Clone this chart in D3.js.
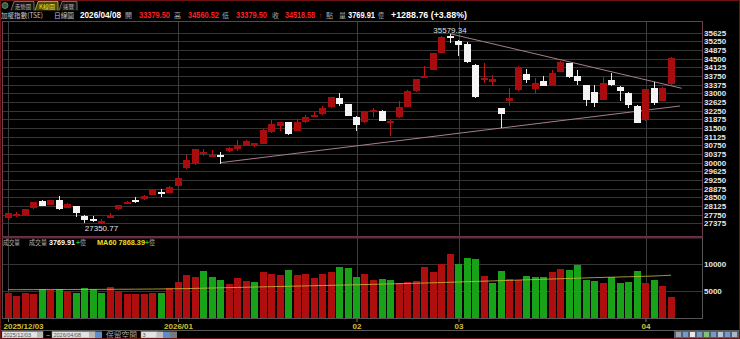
<!DOCTYPE html>
<html>
<head>
<meta charset="utf-8">
<title>加權指數 日線圖</title>
<style>
    body { margin: 0; background: #000; }
    svg { display: block; font-family: "Liberation Sans", Arial, sans-serif; }
    .grid path { display: none; }
    .grid line { stroke: #363636; shape-rendering: crispEdges; }
    .vgrid path { display: none; }
    .vgrid line { stroke: #3c3c3c; shape-rendering: crispEdges; }
    .axis text { fill: #e6e6e6; font-size: 8px; font-weight: bold; }
    .date path { display: none; }
    .date line { stroke: #777; }
    .date text { fill: #d2c23a; font-size: 8px; font-weight: bold; }
    .cjk { font-family: "Noto Sans CJK TC", "Noto Sans", sans-serif; }
</style>
<script src="https://d3js.org/d3.v7.min.js"></script>
</head>
<body>
<svg id="chart" width="740" height="339"></svg>
<script>
// 2025/12/03 ~ 2026/04/08, 79 trading days
var opens  = [27578, 27760, 27737, 28010, 28356, 28170, 28386, 28070, 28126, 27706,
              27565, 27455, 27690, 27966, 28260, 28395, 28416, 28603, 28715, 28702,
              29005, 29757, 29930, 30420, 30320, 30345, 30476, 30580, 30723, 30693,
              30809, 31315, 31588, 31748, 31372, 31774, 32020, 32077, 32380, 32813,
              32540, 31990, 31731, 32265, 32237, 31790, 31947, 32423, 33072, 33700,
              34011, 34760, 35490, 35279, 35123, 34227, 33640, 33492, 32354, 32670,
              33116, 33825, 33219, 33549, 33362, 33937, 34300, 33751, 33362, 33072,
              32713, 33578, 33288, 33029, 32453, 31848, 33219, 32670, 33379.50];
var highs  = [27840, 27880, 28000, 28300, 28370, 28400, 28572, 28250, 28140, 27720,
              27693, 27560, 27840, 28170, 28340, 28500, 28580, 28860, 28850, 28990,
              29370, 30333, 30600, 30580, 30560, 30476, 30693, 30982, 30980, 30870,
              31440, 31848, 31770, 31770, 31890, 32077, 32180, 32450, 32850, 33003,
              32560, 32010, 32230, 32380, 32260, 31877, 32650, 33130, 33640, 34184,
              34760, 35480, 35579.34, 35300, 35236, 34250, 34327, 33795, 32370, 33247,
              34170, 34040, 33652, 33751, 34011, 34400, 34320, 34011, 33380, 33362,
              33721, 33894, 33310, 33050, 32500, 33200, 33479, 33270, 34560.52];
var lows   = [27560, 27640, 27720, 28000, 28140, 28160, 27953, 28050, 27663, 27380,
              27421, 27350.77, 27680, 27950, 28200, 28270, 28400, 28590, 28530, 28690,
              28990, 29740, 29910, 30290, 30270, 29930, 30460, 30520, 30700, 30670,
              30790, 31300, 31370, 31200, 31350, 31705, 31964, 32060, 32360, 32467,
              32000, 31372, 31700, 31990, 31790, 31155, 31930, 32400, 33050, 33652,
              33990, 34740, 35192, 34617, 34300, 32800, 33462, 33332, 31488, 32453,
              33100, 33462, 33029, 33300, 33340, 33910, 33670, 33362, 32453, 32423,
              32700, 33330, 32670, 32354, 31700, 31820, 32500, 32650, 33379.50];
var closes = [27812, 27775, 27983, 28286, 28157, 28386, 27983, 28226, 27837, 27520,
              27540, 27475, 27710, 28157, 28280, 28380, 28559, 28819, 28690, 28961,
              29351, 30117, 30580, 30445, 30345, 30320, 30623, 30766, 30952, 30840,
              31415, 31675, 31748, 31229, 31761, 31990, 32045, 32354, 32830, 32540,
              32034, 31631, 32180, 32295, 31817, 31820, 32397, 33103, 33609, 33740,
              34734, 35452, 35470, 35106, 34327, 32830, 33665, 33635, 32108, 32813,
              34127, 33578, 33462, 33332, 33868, 34370, 33695, 33535, 32713, 32596,
              33462, 33349, 33103, 32527, 31731, 33185, 32570, 33247, 34518.58];
// 成交量 (億)
var volumes = [4540, 4044, 4540, 4411, 5275, 5146, 5275, 4962, 4540, 5459,
               5275, 4650, 5643, 5018, 4356, 4411, 4411, 4650, 4650, 5459,
               6672, 7848, 7591, 8639, 7536, 6984, 6249, 7352, 6745, 6617,
               8400, 8087, 7848, 8822, 7959, 8087, 7407, 8087, 8455, 9429,
               9245, 7591, 8087, 6984, 7113, 6984, 6378, 6617, 6856, 9374,
               8510, 9980, 11818, 9980, 10973, 10789, 7775, 6488, 8639, 7113,
               6984, 7720, 7481, 7481, 8400, 9061, 8822, 9797, 7040, 6801,
               6433, 7536, 6488, 6672, 8639, 6433, 6984, 5882, 3769.91];
// 1 = 漲 (red), 0 = 跌 (green)
var volUp = [1, 1, 1, 1, 0, 1, 0, 1, 0, 0,
             0, 0, 1, 1, 1, 1, 1, 1, 0, 1,
             1, 1, 1, 0, 0, 0, 1, 1, 1, 0,
             1, 1, 1, 0, 1, 1, 1, 1, 1, 0,
             0, 0, 1, 1, 0, 0, 1, 1, 1, 1,
             1, 1, 1, 0, 0, 0, 1, 0, 0, 1,
             1, 0, 0, 0, 1, 1, 0, 0, 0, 0,
             1, 0, 0, 0, 0, 1, 0, 1, 1];
var ma60 = [5200, 5205, 5210, 5215, 5222, 5228, 5235, 5240, 5246, 5252,
            5258, 5265, 5272, 5280, 5290, 5300, 5312, 5325, 5340, 5360,
            5385, 5410, 5445, 5480, 5515, 5550, 5585, 5620, 5655, 5690,
            5725, 5760, 5795, 5830, 5865, 5900, 5935, 5970, 6005, 6040,
            6075, 6110, 6150, 6190, 6230, 6270, 6310, 6350, 6390, 6430,
            6475, 6520, 6570, 6620, 6670, 6720, 6770, 6820, 6870, 6920,
            6970, 7020, 7070, 7120, 7170, 7220, 7270, 7320, 7370, 7420,
            7460, 7500, 7540, 7580, 7620, 7670, 7720, 7790, 7868.39];

var priceTicks = [27375, 27750, 28125, 28500, 28875, 29250, 29625, 30000, 30375, 30750,
                  31125, 31500, 31875, 32250, 32625, 33000, 33375, 33750, 34125, 34500,
                  34875, 35250, 35625];
var volTicks = [5000, 10000];
var dateTicks = [0, 20, 41, 53, 75];
var dateLabels = ["2025/12/03", "2026/01", "02", "03", "04"];

// 趨勢線 (index, price)
var upperTrend = [[52, 35579.34], [79.26, 33219]];
var lowerTrend = [[25, 30000], [79.06, 32453]];

var svg = d3.select("#chart");
var left = 3, right = 702;

var x = d3.scaleLinear().domain([0, 78]).range([8, 671]);
var y = d3.scaleLinear().domain([27375, 35625]).range([223.3, 32.7]);
var yv = d3.scaleLinear().domain([0, 10000]).range([318, 263.6]);

var bars = opens.map(function(o, i) {
    return { i: i, o: o, h: highs[i], l: lows[i], c: closes[i], v: volumes[i], up: volUp[i] };
});

svg.append("rect").attr("width", 740).attr("height", 339).attr("fill", "#000");

var defs = svg.append("defs");
defs.append("clipPath").attr("id", "clipMain").append("rect")
    .attr("x", left).attr("y", 22).attr("width", right - left).attr("height", 214);
defs.append("clipPath").attr("id", "clipVol").append("rect")
    .attr("x", left).attr("y", 238).attr("width", right - left).attr("height", 80);

// price grid + labels
svg.append("g")
    .attr("class", "grid axis")
    .attr("transform", "translate(" + right + ",0)")
    .call(d3.axisRight(y).tickValues(priceTicks).tickSizeInner(-(right - left)).tickSizeOuter(0)
        .tickPadding(2).tickFormat(d3.format("d")));

// volume grid + labels
svg.append("g")
    .attr("class", "grid axis")
    .attr("transform", "translate(" + right + ",0)")
    .call(d3.axisRight(yv).tickValues(volTicks).tickSizeInner(-(right - left)).tickSizeOuter(0)
        .tickPadding(2).tickFormat(d3.format("d")));

// month lines
svg.append("g")
    .attr("class", "vgrid")
    .attr("transform", "translate(0,318)")
    .call(d3.axisBottom(x).tickValues(dateTicks).tickSizeInner(-296).tickSizeOuter(0).tickFormat(""));

// date labels
var dateAxis = svg.append("g")
    .attr("class", "date")
    .attr("transform", "translate(0,318)")
    .call(d3.axisBottom(x).tickValues(dateTicks).tickSizeInner(4).tickSizeOuter(0).tickPadding(1)
        .tickFormat(function(d) { return dateLabels[dateTicks.indexOf(d)]; }));
dateAxis.selectAll("text").filter(function(d) { return d === 0; })
    .attr("text-anchor", "start").attr("x", -5);

// panel borders
svg.append("rect").attr("x", 2.5).attr("y", 21.5).attr("width", 700).attr("height", 215)
    .attr("fill", "none").attr("stroke", "#6e3a50");
svg.append("line").attr("x1", 2).attr("x2", 703).attr("y1", 237.5).attr("y2", 237.5)
    .attr("stroke", "#5e2c40").attr("stroke-width", 2);
svg.append("line").attr("x1", 2.5).attr("x2", 2.5).attr("y1", 238).attr("y2", 319)
    .attr("stroke", "#5a4a50");
svg.append("line").attr("x1", 702.5).attr("x2", 702.5).attr("y1", 238).attr("y2", 319)
    .attr("stroke", "#555");
svg.append("line").attr("x1", 2).attr("x2", 703).attr("y1", 318.5).attr("y2", 318.5)
    .attr("stroke", "#555");
svg.append("line").attr("x1", 0).attr("x2", 740).attr("y1", 330.5).attr("y2", 330.5)
    .attr("stroke", "#5a5a5a");

// trend lines
var tline = d3.line().x(function(d) { return x(d[0]); }).y(function(d) { return y(d[1]); });
var trends = svg.append("g").attr("clip-path", "url(#clipMain)");
[upperTrend, lowerTrend].forEach(function(t) {
    trends.append("path").attr("d", tline(t)).attr("fill", "none")
        .attr("stroke", "#a67e8e").attr("stroke-width", 1);
});

// candles
var cg = svg.append("g").attr("clip-path", "url(#clipMain)").style("shape-rendering", "crispEdges");
function bodyX(d) { return Math.round(x(d.i) - 3.5); }
cg.selectAll("line.wick").data(bars).join("line")
    .attr("class", "wick")
    .attr("x1", function(d) { return bodyX(d) + 3.5; })
    .attr("x2", function(d) { return bodyX(d) + 3.5; })
    .attr("y1", function(d) { return y(d.h); })
    .attr("y2", function(d) { return y(d.l); })
    .attr("stroke", function(d) { return d.c >= d.o ? "#c01414" : "#e8e8e8"; });
cg.selectAll("rect.body").data(bars).join("rect")
    .attr("class", "body")
    .attr("x", bodyX)
    .attr("width", 7)
    .attr("y", function(d) { return Math.round(y(Math.max(d.o, d.c))); })
    .attr("height", function(d) { return Math.max(2, Math.round(y(Math.min(d.o, d.c)) - y(Math.max(d.o, d.c)))); })
    .attr("fill", function(d) { return d.c >= d.o ? "#a80c0c" : "#f4f4f4"; });

// high / low marks
var hiIdx = d3.maxIndex(highs), loIdx = d3.minIndex(lows);
svg.append("text").attr("x", x(hiIdx)).attr("y", y(highs[hiIdx]) - 0.5)
    .attr("text-anchor", "middle").attr("fill", "#e0e0e0").attr("font-size", 8)
    .text(d3.format(".2f")(highs[hiIdx]));
svg.append("text").attr("x", x(loIdx)).attr("y", y(lows[loIdx]) + 7)
    .attr("text-anchor", "middle").attr("fill", "#e0e0e0").attr("font-size", 8)
    .text(d3.format(".2f")(lows[loIdx]));

// volume bars
var vg = svg.append("g").attr("clip-path", "url(#clipVol)").style("shape-rendering", "crispEdges");
vg.selectAll("rect").data(bars).join("rect")
    .attr("x", bodyX)
    .attr("width", 7)
    .attr("y", function(d) { return Math.round(yv(d.v)); })
    .attr("height", function(d) { return 318 - Math.round(yv(d.v)); })
    .attr("fill", function(d) { return d.up ? "#ae0e0e" : "#17a217"; });

var maLine = d3.line().x(function(d, i) { return x(i); }).y(function(d) { return yv(d); });
svg.append("path").attr("d", maLine(ma60)).attr("fill", "none")
    .attr("stroke", "#cdb840").attr("stroke-opacity", 0.8).attr("stroke-width", 1);

// header: tabs
var hdr = svg.append("g");
hdr.append("circle").attr("cx", 5).attr("cy", 5.5).attr("r", 3)
    .attr("fill", "#2f5f2f").attr("stroke", "#8a8a8a").attr("stroke-width", 0.8);
var tabs = [["走勢圖", 11, 23, false], ["K線圖", 35, 23, true], ["速覽", 59, 18, false]];
tabs.forEach(function(t) {
    var x0 = t[1], w = t[2];
    hdr.append("path")
        .attr("d", "M" + x0 + ",10.5 L" + (x0 + 3) + ",1.5 L" + (x0 + w) + ",1.5 L" + (x0 + w) + ",10.5")
        .attr("fill", t[3] ? "#4a4a0a" : "#151515")
        .attr("stroke", t[3] ? "#c8c040" : "#8a8a8a").attr("stroke-width", 0.8);
    hdr.append("text").attr("class", "cjk").attr("x", x0 + 4).attr("y", 9)
        .attr("font-size", 6).attr("fill", t[3] ? "#e8e040" : "#b0b0b0")
        .attr("textLength", w - 7).attr("lengthAdjust", "spacingAndGlyphs").text(t[0]);
});

// header: quote line
var quote = [
    ["加權指數(TSE)", 1, 42, "#c8c8c8", false, true, 7],
    ["日線圖", 54, 20, "#c8c8c8", false, true, 7],
    ["2026/04/08", 80, 41, "#ffffff", true, false, 8.5],
    ["開", 125, 7, "#a8a8a8", false, true, 7],
    ["33379.50", 139, 31, "#ff2020", true, false, 8.5],
    ["高", 174, 7, "#a8a8a8", false, true, 7],
    ["34560.52", 188, 31, "#ff2020", true, false, 8.5],
    ["低", 222, 7, "#a8a8a8", false, true, 7],
    ["33379.50", 236, 31, "#ff2020", true, false, 8.5],
    ["收", 272, 7, "#a8a8a8", false, true, 7],
    ["34518.58", 285, 30, "#ff2020", true, false, 8.5],
    ["↑", 319, 3, "#ff2020", true, false, 7],
    ["點", 326, 7, "#a8a8a8", false, true, 7],
    ["量", 339, 7, "#a8a8a8", false, true, 7],
    ["3769.91", 348, 27, "#ffffff", true, false, 8.5],
    ["億", 378, 6, "#a8a8a8", false, true, 7],
    ["+1288.76 (+3.88%)", 391, 76, "#ffffff", true, false, 8.5]
];
quote.forEach(function(q) {
    hdr.append("text")
        .attr("class", q[5] ? "cjk" : null)
        .attr("x", q[1]).attr("y", 17.5)
        .attr("font-size", q[6])
        .attr("font-weight", q[4] ? "bold" : "normal")
        .attr("fill", q[3])
        .attr("textLength", q[2]).attr("lengthAdjust", "spacingAndGlyphs")
        .text(q[0]);
});

// volume panel header
var vh = [
    ["成交量", 3, 17, "#b0b0b0", false, true],
    ["成交量", 29, 18, "#b0b0b0", false, true],
    ["3769.91", 49, 26, "#ffffff", true, false],
    ["+", 76, 4, "#20c020", true, false],
    ["億", 80, 6, "#a8a8a8", false, true],
    ["MA60 7868.39", 97, 48, "#e8e020", true, false],
    ["+", 145, 4, "#20c020", true, false],
    ["億", 149, 6, "#a8a8a8", false, true]
];
vh.forEach(function(q) {
    svg.append("text")
        .attr("class", q[5] ? "cjk" : null)
        .attr("x", q[1]).attr("y", 244.5)
        .attr("font-size", q[5] ? 6.5 : 7.5)
        .attr("font-weight", q[4] ? "bold" : "normal")
        .attr("fill", q[3])
        .attr("textLength", q[2]).attr("lengthAdjust", "spacingAndGlyphs")
        .text(q[0]);
});

// bottom control bar
var cb = svg.append("g");
function inputBox(x0, w, txt) {
    cb.append("rect").attr("x", x0).attr("y", 331.5).attr("width", w).attr("height", 6.5)
        .attr("fill", "#e4e4e4").attr("stroke", "#888").attr("stroke-width", 0.5);
    cb.append("text").attr("x", x0 + 1.5).attr("y", 337.2).attr("font-size", 5.5)
        .attr("fill", "#505050").text(txt);
}
inputBox(2, 41, "2025/12/03");
cb.append("rect").attr("x", 37).attr("y", 332).attr("width", 6).attr("height", 5.5).attr("fill", "#b8b8b8");
cb.append("text").attr("x", 46).attr("y", 337.5).attr("font-size", 7).attr("fill", "#c0c0c0").text("~");
inputBox(52, 43, "2026/04/08");
cb.append("rect").attr("x", 89).attr("y", 332).attr("width", 6).attr("height", 5.5).attr("fill", "#b8b8b8");
cb.append("rect").attr("x", 95).attr("y", 331.5).attr("width", 7).attr("height", 6.5).attr("fill", "#5b8fcc");
cb.append("text").attr("class", "cjk").attr("x", 106).attr("y", 337.8).attr("font-size", 7.5)
    .attr("fill", "#a8a8a8").attr("textLength", 31).attr("lengthAdjust", "spacingAndGlyphs").text("保留空間");
inputBox(141, 16, "3");
cb.append("rect").attr("x", 157).attr("y", 331.5).attr("width", 6).attr("height", 6.5).attr("fill", "#c0c0c0");
cb.append("rect").attr("x", 163).attr("y", 331.5).attr("width", 7).attr("height", 6.5).attr("fill", "#5b8fcc");
cb.append("rect").attr("x", 170).attr("y", 331.5).attr("width", 7).attr("height", 6.5).attr("fill", "#7a7a7a");

// bottom right toolbar
var toolCols = ["#9aa4ae", "#6f9ccf", "#e8e8e8", "#6f9ccf", "#7fc27f", "#6f9ccf", "#b8c8d8", "#6f9ccf", "#a8b8c8"];
cb.append("rect").attr("x", 674).attr("y", 331).attr("width", 66).attr("height", 7).attr("fill", "#55606c");
toolCols.forEach(function(c, k) {
    cb.append("rect").attr("x", 676 + k * 7).attr("y", 332).attr("width", 5).attr("height", 5).attr("fill", c);
});

// outer frame
svg.append("rect").attr("x", 0.5).attr("y", 0.5).attr("width", 739).attr("height", 338)
    .attr("fill", "none").attr("stroke", "#6e1414");
</script>
</body>
</html>
